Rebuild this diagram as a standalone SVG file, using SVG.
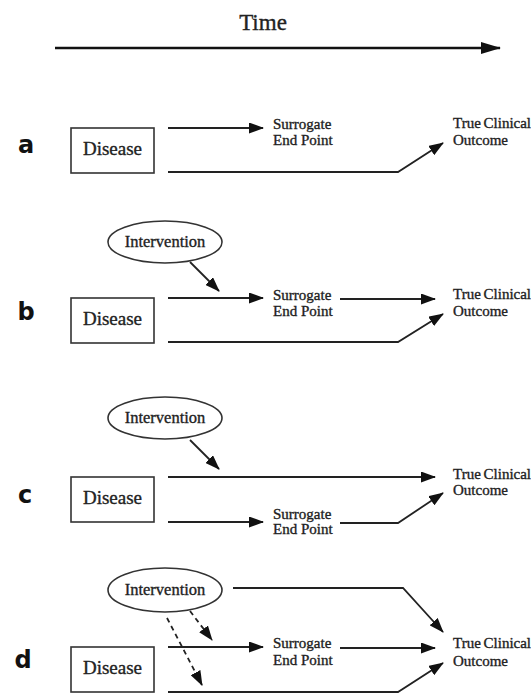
<svg xmlns="http://www.w3.org/2000/svg" width="531" height="693" viewBox="0 0 531 693">
<style>
.t{font-family:"Liberation Serif","Times New Roman",serif;fill:#222;stroke:#222;stroke-width:0.35}
.lbl{font-family:"DejaVu Sans","Liberation Sans",sans-serif;font-weight:bold;font-size:24px;fill:#111;text-anchor:middle}
.dis{font-size:19px;text-anchor:middle}
.sm{font-size:15px}
.tc{font-size:15px;word-spacing:-1px}
.iv{font-size:16.5px;text-anchor:middle}
.box{fill:#fff;stroke:#333;stroke-width:1.6}
.ell{fill:#fff;stroke:#333;stroke-width:1.6}
.c{fill:none;stroke:#222;stroke-width:1.8}
.a{marker-end:url(#ah)}
.dash{stroke-dasharray:5 4}
</style>
<defs>
<marker id="ah" markerUnits="userSpaceOnUse" markerWidth="15" markerHeight="11" refX="14" refY="5.5" orient="auto"><path d="M0,0 L15,5.5 L0,11 Z" fill="#111"/></marker>
<marker id="ahT" markerUnits="userSpaceOnUse" markerWidth="20" markerHeight="12" refX="19" refY="6" orient="auto"><path d="M0,0 L20,6 L0,12 Z" fill="#111"/></marker>
</defs>
<rect width="531" height="693" fill="#fff"/>

<g id="time">
<text class="t" x="263" y="30" font-size="23" text-anchor="middle">Time</text>
<line x1="55" y1="48" x2="500" y2="48" stroke="#111" stroke-width="2.6" marker-end="url(#ahT)"/>
</g>

<!-- Panel a -->
<g id="label-a"><text class="lbl" x="26" y="153">a</text></g>
<g id="disease-a"><rect class="box" x="71" y="128" width="83" height="45"/><text class="t dis" x="112.5" y="155">Disease</text></g>
<g id="surrogate-a"><text class="t sm" x="273" y="129">Surrogate</text><text class="t sm" x="273" y="145">End Point</text></g>
<g id="outcome-a"><text class="t tc" x="453" y="128">True Clinical</text><text class="t tc" x="453" y="145">Outcome</text></g>
<g id="connectors-a">
<line class="c a" x1="168" y1="128" x2="263" y2="128"/>
<polyline class="c a" points="168,172 398,172 443,143"/>
</g>

<!-- Panel b -->
<g id="label-b"><text class="lbl" x="26" y="320">b</text></g>
<g id="intervention-b"><ellipse class="ell" cx="165" cy="242" rx="57" ry="21"/><text class="t iv" x="165" y="247">Intervention</text></g>
<g id="disease-b"><rect class="box" x="71" y="298" width="83" height="45"/><text class="t dis" x="112.5" y="325">Disease</text></g>
<g id="surrogate-b"><text class="t sm" x="273" y="300">Surrogate</text><text class="t sm" x="273" y="316">End Point</text></g>
<g id="outcome-b"><text class="t tc" x="453" y="299">True Clinical</text><text class="t tc" x="453" y="316">Outcome</text></g>
<g id="connectors-b">
<line class="c a" x1="190" y1="262" x2="219" y2="291"/>
<line class="c a" x1="168" y1="298" x2="263" y2="298"/>
<line class="c a" x1="340" y1="299" x2="435" y2="299"/>
<polyline class="c a" points="168,342 398,342 443,314"/>
</g>

<!-- Panel c -->
<g id="label-c"><text class="lbl" x="25" y="503">c</text></g>
<g id="intervention-c"><ellipse class="ell" cx="165" cy="418" rx="57" ry="21"/><text class="t iv" x="165" y="423">Intervention</text></g>
<g id="disease-c"><rect class="box" x="71" y="477" width="83" height="45"/><text class="t dis" x="112.5" y="504">Disease</text></g>
<g id="surrogate-c"><text class="t sm" x="273" y="519">Surrogate</text><text class="t sm" x="273" y="534">End Point</text></g>
<g id="outcome-c"><text class="t tc" x="453" y="479">True Clinical</text><text class="t tc" x="453" y="495">Outcome</text></g>
<g id="connectors-c">
<line class="c a" x1="190" y1="440" x2="219" y2="469"/>
<line class="c a" x1="168" y1="477" x2="435" y2="477"/>
<line class="c a" x1="168" y1="522" x2="263" y2="522"/>
<polyline class="c a" points="340,523 398,523 443,493"/>
</g>

<!-- Panel d -->
<g id="label-d"><text class="lbl" x="23" y="668">d</text></g>
<g id="intervention-d"><ellipse class="ell" cx="165" cy="590" rx="57" ry="22"/><text class="t iv" x="165" y="595">Intervention</text></g>
<g id="disease-d"><rect class="box" x="71" y="647" width="83" height="45"/><text class="t dis" x="112.5" y="674">Disease</text></g>
<g id="surrogate-d"><text class="t sm" x="273" y="648">Surrogate</text><text class="t sm" x="273" y="665">End Point</text></g>
<g id="outcome-d"><text class="t tc" x="453" y="648">True Clinical</text><text class="t tc" x="453" y="666">Outcome</text></g>
<g id="connectors-d">
<polyline class="c a" points="233,588 403,588 443,632"/>
<line class="c a dash" x1="190" y1="611" x2="212" y2="640"/>
<line class="c a dash" x1="167" y1="618" x2="202" y2="685"/>
<line class="c a" x1="168" y1="647" x2="263" y2="647"/>
<line class="c a" x1="340" y1="648" x2="435" y2="648"/>
<polyline class="c a" points="168,692 398,692 443,663"/>
</g>
</svg>
